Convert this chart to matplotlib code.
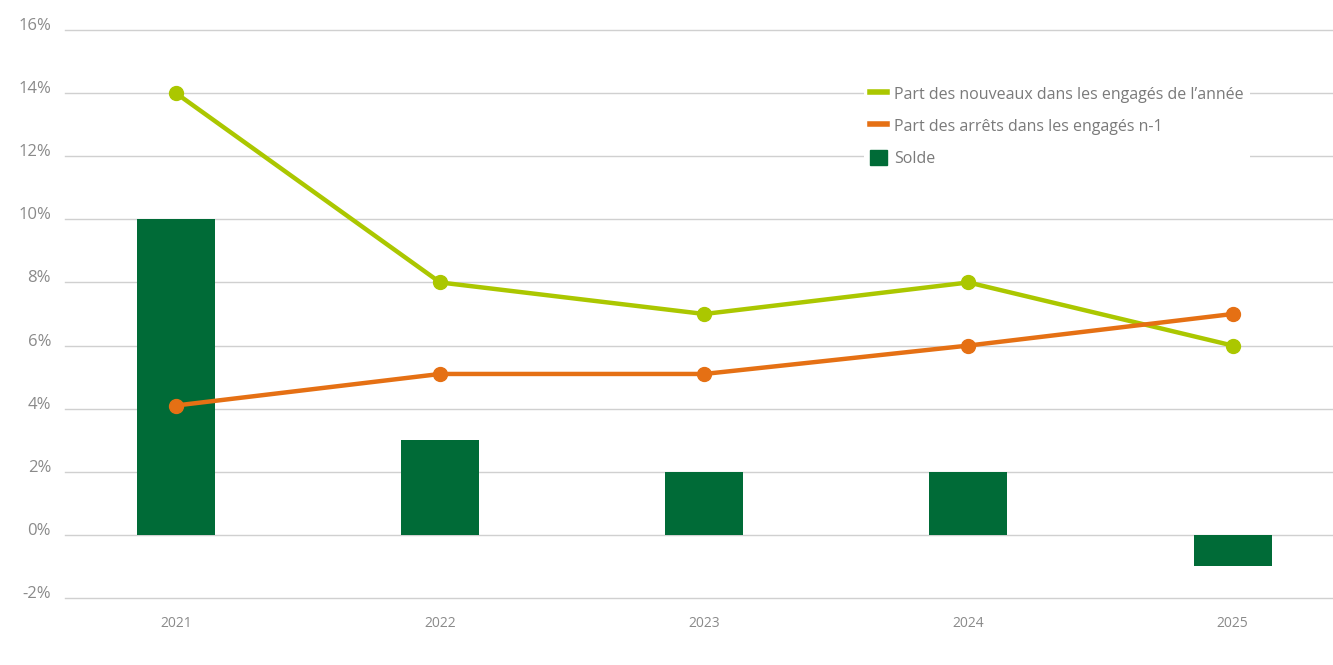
import numpy as np
import matplotlib.pyplot as plt
from matplotlib.lines import Line2D
from matplotlib.patches import Patch

plt.rcParams['font.family'] = ['Open Sans', 'DejaVu Sans']

annees = ['2021', '2022', '2023', '2024', '2025']
nouveaux = [14, 8, 7, 8, 6]
arrets = [4.1, 5.1, 5.1, 6, 7]
solde = [10, 3, 2, 2, -1]

vert_clair = '#abc700'
orange = '#e57014'
vert_fonce = '#006b37'
gris = '#8a8a8a'

fig = plt.figure(figsize=(13.33, 6.65), dpi=100)
ax = fig.add_axes([65 / 1333, 67 / 665, 1 - 65 / 1333, 568 / 665])

x = np.arange(len(annees))
ax.bar(x, solde, width=0.295, color=vert_fonce, zorder=2)
ax.plot(x, nouveaux, color=vert_clair, lw=3.2, marker='o', ms=10, zorder=3)
ax.plot(x, arrets, color=orange, lw=3.2, marker='o', ms=10, zorder=3)

ax.set_xlim(-0.42, 4.38)
ax.set_ylim(-2, 16)
ax.set_yticks(range(-2, 17, 2))
ax.set_yticklabels([f'{v}%' for v in range(-2, 17, 2)])
ax.set_xticks(x)
ax.set_xticklabels(annees)
ax.grid(axis='y', color='#d0d0d0', lw=1, zorder=0)
for g in ax.get_ygridlines():
    g.set_clip_on(False)
for s in ax.spines.values():
    s.set_visible(False)
ax.tick_params(axis='y', length=0, pad=10, labelsize=12, labelcolor=gris)
ax.tick_params(axis='x', length=0, pad=13, labelsize=10, labelcolor=gris)
for lab in ax.get_yticklabels():
    lab.set_verticalalignment('baseline')

handles = [
    Line2D([], [], color=vert_clair, lw=4),
    Line2D([], [], color=orange, lw=4),
    Patch(color=vert_fonce),
]
labels = ["Part des nouveaux dans les engagés de l’année",
          "Part des arrêts dans les engagés n-1",
          "Solde"]
leg = ax.legend(handles, labels, loc='upper left',
                bbox_to_anchor=(864 / 1333, 1 - 80 / 665),
                bbox_transform=fig.transFigure,
                frameon=True, facecolor='white', edgecolor='white', framealpha=1,
                fontsize=11.5, handlelength=1.1, handleheight=1.1,
                handletextpad=0.45, labelspacing=0.95, borderaxespad=0,
                borderpad=0.35)
leg.get_frame().set_linewidth(0)
for t in leg.get_texts():
    t.set_color('#7a7a7a')

fig.savefig('out.png', dpi=100)
